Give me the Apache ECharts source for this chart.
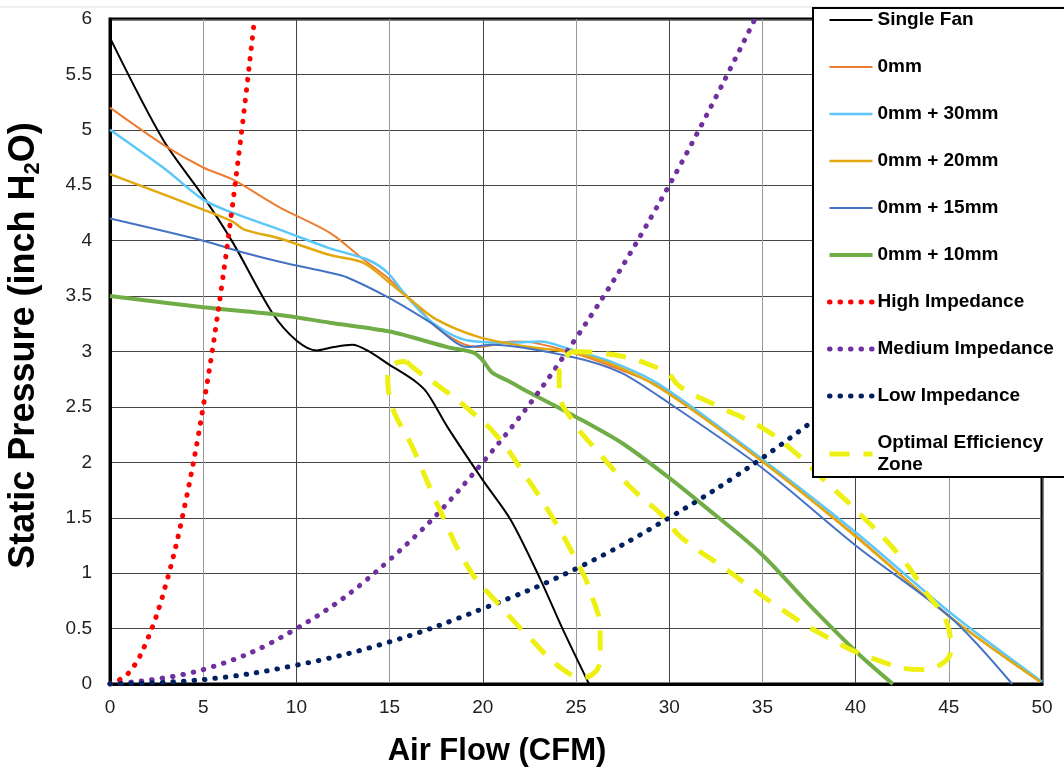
<!DOCTYPE html>
<html>
<head>
<meta charset="utf-8">
<script src="https://cdn.jsdelivr.net/npm/echarts@6/dist/echarts.min.js"></script>
<style>
  html, body { margin: 0; padding: 0; background: #fff; }
  #chart { width: 1064px; height: 768px; }
</style>
</head>
<body>
<div id="chart"></div>
<script>
// values (x = CFM, y = inch H2O)
const singleFanX = [0, 2.85, 5.0, 6.6, 8.7, 10.0, 11.1, 12.0, 13.0, 13.8, 15.0, 16.3, 17.0, 18.1, 20.0, 21.5, 23.1, 24.3, 25.7];
const singleFanY = [5.83, 4.91, 4.4, 3.98, 3.35, 3.1, 3.01, 3.04, 3.06, 3.01, 2.88, 2.74, 2.63, 2.32, 1.84, 1.48, 0.94, 0.49, 0];

const mm0X = [0, 3.0, 5.0, 6.6, 9.1, 11.8, 13.6, 15.0, 16.3, 17.5, 18.8, 19.8, 21.6, 22.7, 24.8, 27.0, 29.5, 34.9, 40.0, 45.1, 49.9];
const mm0Y = [5.2, 4.85, 4.66, 4.55, 4.3, 4.07, 3.83, 3.65, 3.44, 3.22, 3.08, 3.04, 3.09, 3.08, 2.99, 2.86, 2.68, 2.02, 1.34, 0.6, 0.02];

const mm30X = [0, 3.0, 5.0, 6.6, 9.1, 11.8, 13.8, 14.9, 15.9, 17.3, 19.2, 21.6, 23.1, 24.5, 27.0, 29.5, 34.9, 40.0, 45.1, 50.0];
const mm30Y = [5.0, 4.64, 4.37, 4.25, 4.1, 3.93, 3.83, 3.71, 3.5, 3.26, 3.1, 3.08, 3.09, 3.03, 2.9, 2.7, 2.04, 1.37, 0.64, 0.02];

const mm20X = [0, 5.0, 6.6, 7.2, 9.1, 11.8, 13.6, 15.0, 16.1, 17.5, 19.8, 22.5, 24.8, 27.0, 29.5, 34.9, 40.0, 45.1, 49.9];
const mm20Y = [4.6, 4.28, 4.17, 4.1, 4.02, 3.87, 3.8, 3.62, 3.47, 3.29, 3.13, 3.04, 2.99, 2.88, 2.67, 2.02, 1.33, 0.6, 0.02];

const mm15X = [0, 5.0, 7.0, 9.1, 11.8, 12.7, 14.9, 17.2, 19.2, 20.5, 24.8, 27.4, 29.5, 34.9, 40.0, 45.1, 48.4];
const mm15Y = [4.2, 4.0, 3.9, 3.81, 3.71, 3.67, 3.49, 3.26, 3.04, 3.06, 2.95, 2.81, 2.59, 1.96, 1.25, 0.6, 0];

const mm10X = [0, 5.0, 9.1, 11.8, 15.0, 18.1, 19.5, 20.0, 20.5, 21.3, 22.5, 25.0, 27.5, 30.0, 31.7, 34.9, 37.6, 40.1, 42.0];
const mm10Y = [3.5, 3.4, 3.33, 3.26, 3.18, 3.04, 2.99, 2.92, 2.81, 2.74, 2.63, 2.41, 2.17, 1.86, 1.63, 1.18, 0.7, 0.28, 0];

const highX = [0, 1, 2, 3, 4, 5, 6, 7, 7.75];
const highY = [0, 0.1, 0.4, 0.9, 1.6, 2.5, 3.6, 4.9, 6.0];

const mediumX = [0, 5, 10, 15, 20, 25, 30, 34.6];
const mediumY = [0, 0.13, 0.5, 1.12, 2.0, 3.12, 4.5, 6.0];

const lowX = [0, 5, 10, 15, 20, 25, 30, 35, 40];
const lowY = [0, 0.04, 0.17, 0.38, 0.68, 1.04, 1.5, 2.04, 2.67];

// two closed dashed loops
const zoneAX = [15.9, 16.6, 17.7, 19.3, 20.8, 22.2, 23.6, 25.0, 25.8, 26.3, 26.3, 25.4, 24.3, 22.5, 20.8, 19.3, 17.7, 16.3, 15.0, 14.9, 15.4, 15.9];
const zoneAY = [2.91, 2.81, 2.68, 2.47, 2.23, 1.9, 1.54, 1.12, 0.82, 0.46, 0.22, 0.06, 0.13, 0.42, 0.73, 1.03, 1.57, 2.11, 2.59, 2.77, 2.9, 2.91];

const zoneBX = [24.8, 26.1, 29.7, 30.6, 32.7, 34.9, 36.6, 38.5, 40.2, 42.4, 43.8, 44.9, 45.1, 44.7, 43.5, 41.1, 38.5, 35.8, 33.1, 30.6, 29.7, 27.9, 26.1, 24.8, 24.1, 24.1, 24.8];
const zoneBY = [3.0, 2.99, 2.83, 2.68, 2.5, 2.32, 2.11, 1.81, 1.54, 1.15, 0.82, 0.55, 0.31, 0.19, 0.13, 0.22, 0.42, 0.7, 1.03, 1.33, 1.51, 1.78, 2.11, 2.38, 2.65, 2.86, 3.0];

const xTicks = [0, 5, 10, 15, 20, 25, 30, 35, 40, 45, 50];
const yTicks = [0, 0.5, 1, 1.5, 2, 2.5, 3, 3.5, 4, 4.5, 5, 5.5, 6];

const zip = (xs, ys) => xs.map((x, i) => [x, ys[i]]);

function solid(name, xs, ys, color, width) {
  return {
    name: name,
    type: 'line',
    data: zip(xs, ys),
    smooth: 0.3,
    showSymbol: false,
    lineStyle: { color: color, width: width },
    itemStyle: { color: color }
  };
}

function dotted(name, xs, ys, color) {
  return {
    name: name,
    type: 'line',
    data: zip(xs, ys),
    smooth: 0.4,
    showSymbol: false,
    lineStyle: { color: color, width: 5, type: [0.5, 10], cap: 'round' },
    itemStyle: { color: color }
  };
}

function dashedLoop(name, xs, ys) {
  return {
    name: name,
    type: 'line',
    data: zip(xs, ys),
    smooth: 0.45,
    showSymbol: false,
    lineStyle: { color: '#eef014', width: 5, type: [20, 14] },
    itemStyle: { color: '#eef014' }
  };
}

const chart = echarts.init(document.getElementById('chart'), null, { renderer: 'canvas' });

const series = [
  solid('Single Fan', singleFanX, singleFanY, '#000000', 2),
  solid('0mm', mm0X, mm0Y, '#ed7d31', 2),
  solid('0mm + 30mm', mm30X, mm30Y, '#5cc8f7', 2.5),
  solid('0mm + 20mm', mm20X, mm20Y, '#e2a80f', 2.5),
  solid('0mm + 15mm', mm15X, mm15Y, '#4472c4', 2),
  solid('0mm + 10mm', mm10X, mm10Y, '#70ad47', 4),
  dotted('High Impedance', highX, highY, '#ff0000'),
  dotted('Medium Impedance', mediumX, mediumY, '#7030a0'),
  dotted('Low Impedance', lowX, lowY, '#002060'),
  dashedLoop('Optimal Efficiency Zone', zoneAX, zoneAY),
  dashedLoop('Optimal Efficiency Zone', zoneBX, zoneBY)
];

chart.setOption({
  backgroundColor: '#ffffff',
  animation: false,
  textStyle: { fontFamily: 'Liberation Sans, Arial, sans-serif' },
  grid: {
    left: 110, right: 22, top: 19, bottom: 84,
    outerBoundsMode: 'none',
    containLabel: false,
    show: true,
    borderColor: '#000',
    borderWidth: 3,
    backgroundColor: 'transparent'
  },
  graphic: [{
    type: 'line',
    shape: { x1: 0, y1: 7, x2: 1064, y2: 7 },
    style: { stroke: '#dddddd', lineWidth: 1 },
    z: 0
  }],
  legend: {
    orient: 'vertical',
    left: 813,
    top: 8,
    padding: [1, 200, 1, 14],
    itemWidth: 43,
    itemHeight: 22,
    itemGap: 25,
    backgroundColor: '#ffffff',
    borderColor: '#000',
    borderWidth: 2,
    borderRadius: 0,
    selectedMode: false,
    itemStyle: { opacity: 0 },
    lineStyle: { width: 'inherit' },
    data: ['Single Fan', '0mm', '0mm + 30mm', '0mm + 20mm', '0mm + 15mm', '0mm + 10mm',
           'High Impedance', 'Medium Impedance', 'Low Impedance', 'Optimal Efficiency Zone'],
    formatter: function (n) {
      return n === 'Optimal Efficiency Zone' ? 'Optimal Efficiency\nZone' : n;
    },
    textStyle: {
      fontSize: 19,
      fontWeight: 'bold',
      color: '#000',
      lineHeight: 22,
      fontFamily: 'Liberation Sans, Arial, sans-serif'
    }
  },
  xAxis: {
    type: 'value',
    min: 0, max: 50, interval: 5,
    name: 'Air Flow (CFM)',
    nameLocation: 'middle',
    nameGap: 52,
    nameTextStyle: {
      fontSize: 31, fontWeight: 'bold', color: '#000',
      padding: [0, 158, 0, 0]
    },
    axisLine: { show: true, onZero: false, lineStyle: { color: '#000', width: 3 } },
    axisTick: { show: false },
    axisLabel: {
      fontSize: 19, color: '#222', margin: 14,
      formatter: v => xTicks.includes(v) ? String(v) : ''
    },
    splitLine: { show: true, lineStyle: { color: ['#444', '#999'], width: 1 } }
  },
  yAxis: {
    type: 'value',
    min: 0, max: 6, interval: 0.5,
    name: 'Static Pressure (inch H{sub|2}O)',
    nameLocation: 'middle',
    nameGap: 66,
    nameRotate: 90,
    nameTextStyle: {
      fontSize: 36, fontWeight: 'bold', color: '#000',
      padding: [0, 0, 0, 12],
      rich: {
        sub: { fontSize: 22, fontWeight: 'bold', color: '#000', verticalAlign: 'bottom', padding: [18, 0, 0, 0] }
      }
    },
    axisLine: { show: true, onZero: false, lineStyle: { color: '#000', width: 3 } },
    axisTick: { show: false },
    axisLabel: {
      fontSize: 19, color: '#222', margin: 18,
      formatter: v => yTicks.includes(v) ? String(v) : ''
    },
    splitLine: { show: true, lineStyle: { color: '#444', width: 1 } }
  },
  series: series
});
</script>
</body>
</html>
